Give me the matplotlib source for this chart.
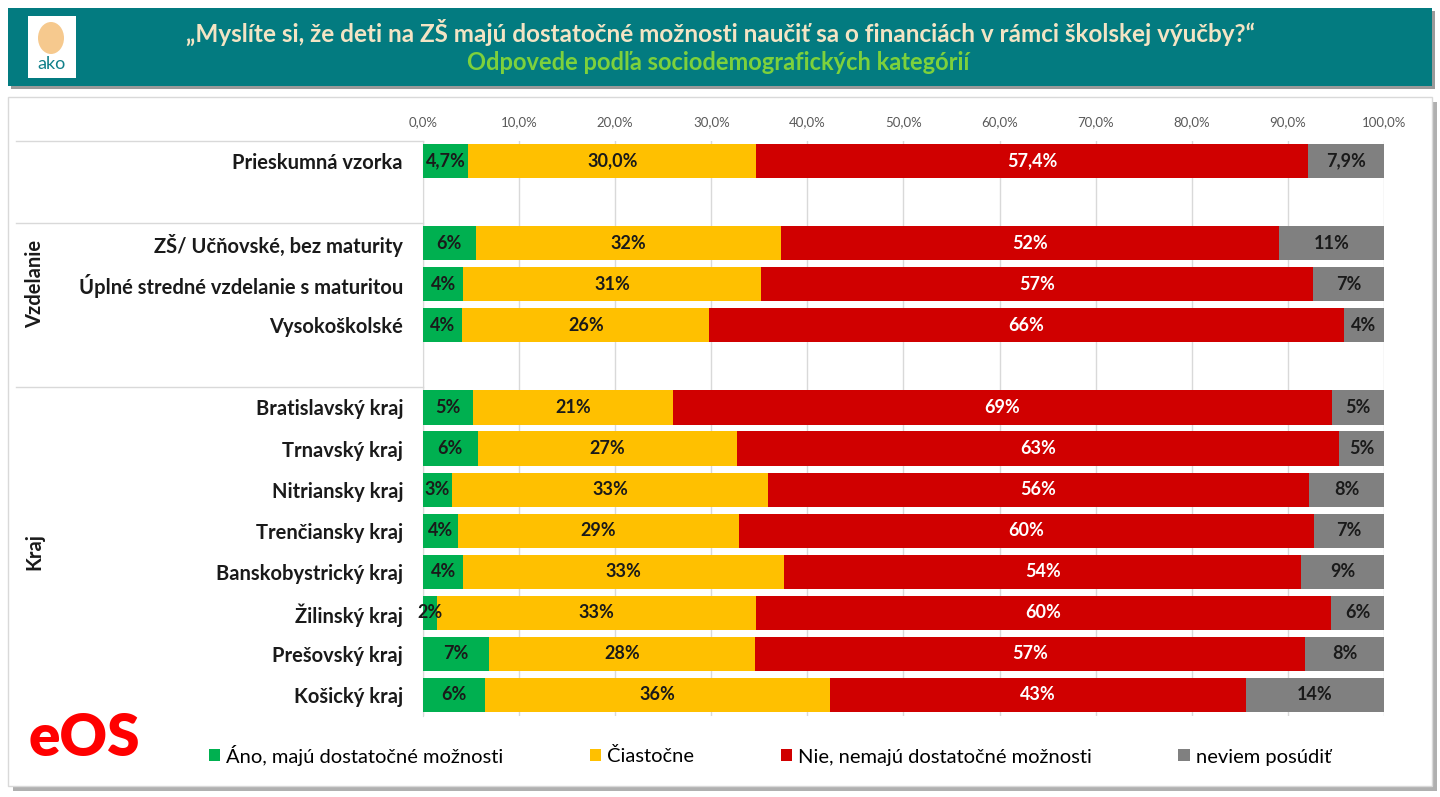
import matplotlib.pyplot as plt
from matplotlib.patches import Rectangle, Ellipse, Patch
from matplotlib.transforms import blended_transform_factory

plt.rcParams['font.family'] = ['Lato', 'DejaVu Sans']

title = "„Myslíte si, že deti na ZŠ majú dostatočné možnosti naučiť sa o financiách v rámci školskej výučby?“"
subtitle = "Odpovede podľa sociodemografických kategórií"

series = ["Áno, majú dostatočné možnosti", "Čiastočne",
          "Nie, nemajú dostatočné možnosti", "neviem posúdiť"]
colors = ["#00B050", "#FFC000", "#D00000", "#808080"]
text_colors = ["#1a1a1a", "#1a1a1a", "white", "#1a1a1a"]

groups = ["", "Vzdelanie", "Kraj"]
categories = [
    ["Prieskumná vzorka"],
    ["ZŠ/ Učňovské, bez maturity", "Úplné stredné vzdelanie s maturitou", "Vysokoškolské"],
    ["Bratislavský kraj", "Trnavský kraj", "Nitriansky kraj", "Trenčiansky kraj",
     "Banskobystrický kraj", "Žilinský kraj", "Prešovský kraj", "Košický kraj"],
]
decimals = [1, 0, 0]  # počet desatinných miest v popiskoch pre každú skupinu

ano = [4.7, 5.5, 4.2, 4.1, 5.2, 5.7, 3.0, 3.6, 4.2, 1.5, 6.9, 6.4]
ciastocne = [30.0, 31.8, 31.0, 25.7, 20.8, 27.0, 32.9, 29.3, 33.4, 33.1, 27.6, 36.0]
nie = [57.4, 51.8, 57.4, 66.0, 68.6, 62.6, 56.3, 59.8, 53.8, 59.9, 57.3, 43.2]
neviem = [7.9, 10.9, 7.4, 4.2, 5.4, 4.7, 7.8, 7.3, 8.6, 5.5, 8.2, 14.4]
values = [ano, ciastocne, nie, neviem]

xticks = [0, 10, 20, 30, 40, 50, 60, 70, 80, 90, 100]

W, H = 1440, 797


def fx(x):
    return x / W


def fy(y):
    return 1 - y / H


fig = plt.figure(figsize=(14.4, 7.97), dpi=100)

# hlavička
fig.add_artist(Rectangle((fx(11), fy(89)), fx(1424), 78 / H, transform=fig.transFigure,
                         facecolor="#9a9a9a", edgecolor="none", zorder=-5))
fig.add_artist(Rectangle((fx(8), fy(86)), fx(1424), 78 / H, transform=fig.transFigure,
                         facecolor="#037B80", edgecolor="none", zorder=-4))
fig.add_artist(Rectangle((fx(28), fy(78)), fx(48), 62 / H, transform=fig.transFigure,
                         facecolor="white", edgecolor="none", zorder=-3))
fig.add_artist(Ellipse((fx(51), fy(38)), fx(26), 32 / H, transform=fig.transFigure,
                       facecolor="#F6C98E", edgecolor="none", zorder=-2))
fig.text(fx(51), fy(64), "ako", color="#11808A", fontsize=13, ha="center", va="center")
fig.text(fx(721), fy(32), title, color="#F3E4C4", fontsize=17.5, fontweight="bold",
         ha="center", va="center")
fig.text(fx(718), fy(63), subtitle, color="#7DD13C", fontsize=17, fontweight="bold",
         ha="center", va="center")

# panel grafu
fig.add_artist(Rectangle((fx(13), fy(791)), fx(1424), 689 / H, transform=fig.transFigure,
                         facecolor="#b0b0b0", edgecolor="none", zorder=-5))
fig.add_artist(Rectangle((fx(8), fy(786)), fx(1424), 689 / H, transform=fig.transFigure,
                         facecolor="white", edgecolor="#d9d9d9", lw=1, zorder=-4))

ax = fig.add_axes([fx(423), fy(715.5), 961 / W, 575 / H])
ax.set_facecolor("none")

# pozície riadkov s medzerou za každou skupinou
ypos, labels, spans = [], [], []
y = 0
for cats in categories:
    start = y
    for c in cats:
        ypos.append(y)
        labels.append(c)
        y += 1
    spans.append((start - 0.5, y - 0.5))
    y += 1

row_dec = [d for d, cats in zip(decimals, categories) for _ in cats]

left = [0] * len(ypos)
for vals, col, tcol in zip(values, colors, text_colors):
    bars = ax.barh(ypos, vals, left=left, height=0.83, color=col, zorder=3)
    lab = [f"{v:.{d}f}".replace(".", ",") + "%" for v, d in zip(vals, row_dec)]
    ax.bar_label(bars, labels=lab, label_type="center", color=tcol,
                 fontsize=13, fontweight="bold", zorder=4)
    left = [a + b for a, b in zip(left, vals)]

ax.set_xlim(0, 100)
ax.set_ylim(13.5, -0.5)
ax.set_xticks(xticks)
ax.set_xticklabels([f"{t:.1f}".replace(".", ",") + "%" for t in xticks],
                   color="#595959", fontsize=9.5)
ax.xaxis.tick_top()
ax.tick_params(axis="x", length=0, pad=9)
ax.set_yticks(ypos)
ax.set_yticklabels(labels, fontsize=14.5, fontweight="bold", color="#1a1a1a")
ax.tick_params(axis="y", length=0, pad=14.4)
ax.grid(axis="x", color="#d9d9d9", lw=1, zorder=0)
for s in ["top", "right", "bottom"]:
    ax.spines[s].set_visible(False)
ax.spines["left"].set_color("#d9d9d9")

tr = blended_transform_factory(ax.transAxes, ax.transData)
for g, (a, b) in zip(groups, spans):
    ax.plot([-0.423, 0], [a, a], color="#d9d9d9", lw=1, transform=tr, clip_on=False)
    if g:
        ax.text(-0.404, (a + b) / 2, g, transform=tr, rotation=90, ha="center",
                va="center", fontsize=14.5, fontweight="bold", color="#1a1a1a")

# logo eOS
fig.text(fx(84), fy(738), "eOS", color="#FF0000", fontsize=42, fontweight="heavy",
         ha="center", va="center")

handles = [Patch(facecolor=c, edgecolor="none") for c in colors]
fig.legend(handles, series, loc="center", bbox_to_anchor=(fx(770), fy(755)), ncol=4,
           frameon=False, fontsize=14.5, handlelength=0.55, handleheight=0.55,
           handletextpad=0.3, columnspacing=4.3)

fig.savefig("out.png", dpi=100)
